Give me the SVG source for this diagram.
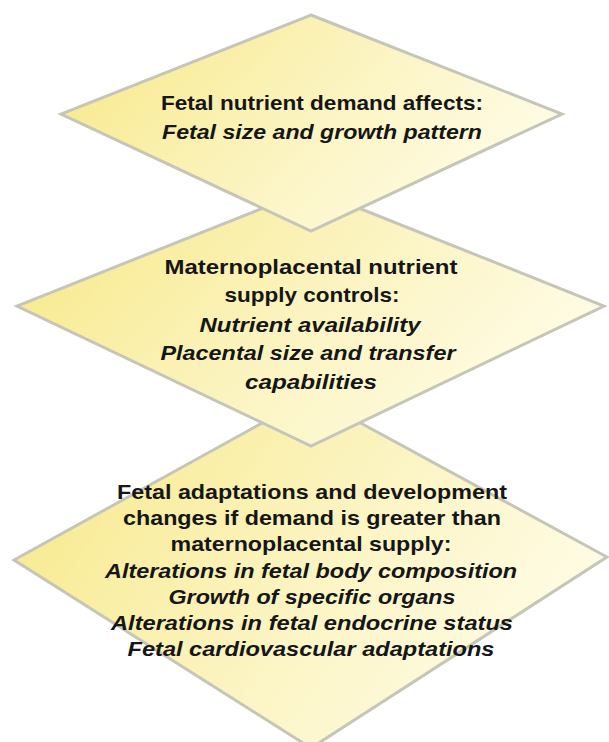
<svg xmlns="http://www.w3.org/2000/svg" width="609" height="742" viewBox="0 0 609 742">
  <defs>
    <!-- pale yellow wash, stronger on the left -->
    <linearGradient id="wash" x1="0" y1="0.3" x2="1" y2="0.7">
      <stop offset="0" stop-color="#f8ea8e"/>
      <stop offset="0.45" stop-color="#fbf3bd"/>
      <stop offset="1" stop-color="#fffdeb"/>
    </linearGradient>
  </defs>
  <style>
    .diamond { fill: url(#wash); stroke: #c6c6b8; stroke-width: 3; stroke-linejoin: miter; }
    .t { font-family: "Liberation Sans Narrow", "Liberation Sans", Arial, sans-serif; font-size: 21px; font-weight: bold; fill: #161616; text-anchor: middle; }
    .i { font-style: italic; }
  </style>
  <rect width="609" height="742" fill="#ffffff"/>

  <!-- bottom layer: fetal adaptations -->
  <g id="node-adaptations">
    <polygon class="diamond" points="311,396 607,557 311,748 14,560"/>
    <text class="t" x="312" y="499" textLength="390" lengthAdjust="spacingAndGlyphs">Fetal adaptations and development</text>
    <text class="t" x="312" y="525" textLength="378" lengthAdjust="spacingAndGlyphs">changes if demand is greater than</text>
    <text class="t" x="311" y="551" textLength="281" lengthAdjust="spacingAndGlyphs">maternoplacental supply:</text>
    <text class="t i" x="311" y="578" textLength="412" lengthAdjust="spacingAndGlyphs">Alterations in fetal body composition</text>
    <text class="t i" x="312" y="604" textLength="287" lengthAdjust="spacingAndGlyphs">Growth of specific organs</text>
    <text class="t i" x="312" y="630" textLength="402" lengthAdjust="spacingAndGlyphs">Alterations in fetal endocrine status</text>
    <text class="t i" x="311" y="656" textLength="367" lengthAdjust="spacingAndGlyphs">Fetal cardiovascular adaptations</text>
  </g>

  <!-- middle layer: maternoplacental supply -->
  <g id="node-supply">
    <polygon class="diamond" points="311,189 604,306 311,446 17,306"/>
    <text class="t" x="311" y="274" textLength="293" lengthAdjust="spacingAndGlyphs">Maternoplacental nutrient</text>
    <text class="t" x="312" y="302" textLength="175" lengthAdjust="spacingAndGlyphs">supply controls:</text>
    <text class="t i" x="310" y="332" textLength="221" lengthAdjust="spacingAndGlyphs">Nutrient availability</text>
    <text class="t i" x="308" y="360" textLength="295" lengthAdjust="spacingAndGlyphs">Placental size and transfer</text>
    <text class="t i" x="311" y="389" textLength="132" lengthAdjust="spacingAndGlyphs">capabilities</text>
  </g>

  <!-- top layer: fetal demand -->
  <g id="node-demand">
    <polygon class="diamond" points="311,15 562,114 311,231 61,114"/>
    <text class="t" x="322" y="110" textLength="322" lengthAdjust="spacingAndGlyphs">Fetal nutrient demand affects:</text>
    <text class="t i" x="322" y="139" textLength="320" lengthAdjust="spacingAndGlyphs">Fetal size and growth pattern</text>
  </g>
</svg>
